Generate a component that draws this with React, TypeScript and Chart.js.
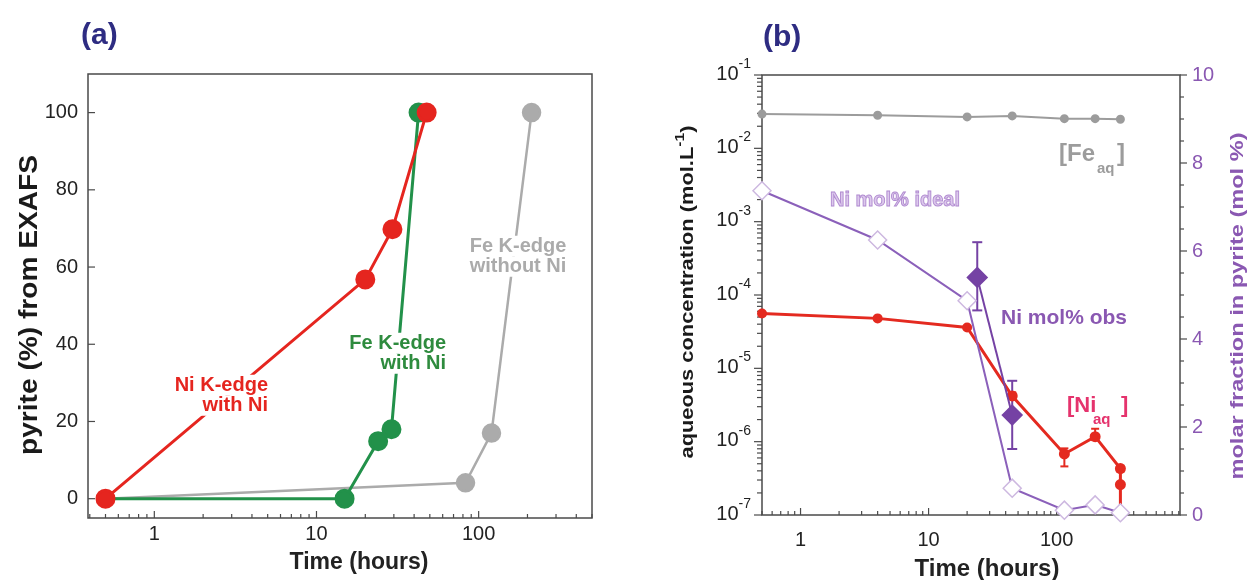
import React, { useEffect, useRef } from "react";
import { Chart, registerables } from "chart.js";
Chart.register(...registerables);

const FONT = '"Liberation Sans", Arial, Helvetica, sans-serif';
const fnt = (size: number, bold = false) => `${bold ? "bold " : ""}${size}px ${FONT}`;

// ---------------- Panel (a) data ----------------
const timeNiKedge = [0.5, 20, 29.4, 47.8];
const pyriteNiKedge = [0, 56.8, 69.8, 100];
const timeFeKedgeNi = [0.5, 14.9, 24, 29, 42.6];
const pyriteFeKedgeNi = [0, 0, 14.9, 18, 100];
const timeFeKedgeNoNi = [0.5, 83, 120, 212];
const pyriteFeKedgeNoNi = [0, 4.1, 17, 100];
const xTickLabelsA = [1, 10, 100];
const yTickLabelsA = [0, 20, 40, 60, 80, 100];

// ---------------- Panel (b) data ----------------
const timeFe = [0.5, 4, 20, 45, 115, 200, 315];
const feAq = [2.93e-2, 2.83e-2, 2.68e-2, 2.77e-2, 2.54e-2, 2.54e-2, 2.49e-2];
const timeNiAq = [0.5, 4, 20, 45, 115, 200, 315, 315, 315];
const niAq = [5.6e-5, 4.8e-5, 3.6e-5, 4.2e-6, 6.8e-7, 1.17e-6, 4.3e-7, 2.6e-7, 1e-8];
const niAqErrLow = [null, null, null, 3.8e-6, 4.6e-7, 1.05e-6, 3.9e-7, null, null];
const niAqErrHigh = [null, null, null, 4.7e-6, 8.1e-7, 1.5e-6, 4.7e-7, null, null];
const timeIdeal = [0.5, 4, 20, 45, 115, 200, 315];
const niMolIdeal = [7.37, 6.25, 4.87, 0.61, 0.11, 0.23, 0.05];
const timeObs = [24, 45];
const niMolObs = [5.4, 2.27];
const niMolObsLow = [4.65, 1.5];
const niMolObsHigh = [6.2, 3.05];
const xTickLabelsB = [1, 10, 100];
const yLeftExponents = [-1, -2, -3, -4, -5, -6, -7];
const yRightTickLabels = [0, 2, 4, 6, 8, 10];

const zip = (xs: number[], ys: number[]) => xs.map((x, i) => ({ x, y: ys[i] }));

const AXIS = "#4a4a4a";
const NAVY = "#2E2C82";
const RED_A = "#E5251F";
const GREEN = "#22914A";
const GRAY_A = "#ABABAB";
const GRAY_B = "#9C9C9C";
const RED_B = "#E42A20";
const PURPLE_LINE = "#8B60BA";
const IDEAL_BORDER = "#CDB8E0";
const OBS = "#7542A4";
const PURPLE_TXT = "#8A58B2";

function logTicks(min: number, max: number) {
  const out: { v: number; major: boolean }[] = [];
  for (let e = Math.floor(Math.log10(min)); e <= Math.ceil(Math.log10(max)); e++) {
    for (let k = 1; k <= 9; k++) {
      const v = k * Math.pow(10, e);
      if (v >= min * 0.999 && v <= max * 1.001) out.push({ v, major: k === 1 });
    }
  }
  return out;
}

function seg(ctx: any, x1: number, y1: number, x2: number, y2: number) {
  ctx.beginPath();
  ctx.moveTo(x1, y1);
  ctx.lineTo(x2, y2);
  ctx.stroke();
}

function rotatedFitted(ctx: any, parts: { t: string; sup?: boolean }[], cx: number, cy: number, length: number, size: number, color: string) {
  ctx.save();
  const supSize = Math.round(size * 0.7);
  const widths = parts.map((p) => {
    ctx.font = fnt(p.sup ? supSize : size, true);
    return ctx.measureText(p.t).width;
  });
  const total = widths.reduce((a, b) => a + b, 0);
  ctx.translate(cx, cy);
  ctx.rotate(-Math.PI / 2);
  ctx.scale(length / total, 1);
  ctx.fillStyle = color;
  ctx.textBaseline = "middle";
  ctx.textAlign = "left";
  let u = -total / 2;
  parts.forEach((p, i) => {
    ctx.font = fnt(p.sup ? supSize : size, true);
    ctx.fillText(p.t, u, p.sup ? -size * 0.4 : 0);
    u += widths[i];
  });
  ctx.restore();
}

function labelBlock(ctx: any, lines: string[], x: number, y0: number, lineH: number, align: string, color: string, size: number) {
  ctx.save();
  ctx.font = fnt(size, true);
  ctx.textBaseline = "middle";
  ctx.textAlign = align;
  lines.forEach((s, i) => {
    const w = ctx.measureText(s).width;
    const y = y0 + i * lineH;
    const l = align === "right" ? x - w : align === "center" ? x - w / 2 : x;
    ctx.fillStyle = "#fff";
    ctx.fillRect(l - 3, y - lineH / 2, w + 6, lineH);
  });
  ctx.fillStyle = color;
  lines.forEach((s, i) => ctx.fillText(s, x, y0 + i * lineH));
  ctx.restore();
}

const X_MIN_A = 0.39, X_MAX_A = 500;
const X_MIN_B = 0.5, X_MAX_B = 920;

const pluginA = {
  id: "panelA",
  beforeDatasetsDraw(chart: any) {
    const { ctx, chartArea: a } = chart;
    const x = chart.scales.x, y = chart.scales.y;
    ctx.save();
    ctx.strokeStyle = AXIS;
    ctx.lineWidth = 1.5;
    ctx.strokeRect(a.left, a.top, a.right - a.left, a.bottom - a.top);
    ctx.lineWidth = 1.2;
    for (const t of logTicks(X_MIN_A, X_MAX_A)) {
      const px = x.getPixelForValue(t.v);
      seg(ctx, px, a.bottom, px, a.bottom - (t.major ? 7 : 4));
    }
    for (const v of yTickLabelsA) {
      const py = y.getPixelForValue(v);
      seg(ctx, a.left, py, a.left + 7, py);
    }
    ctx.fillStyle = "#222";
    ctx.font = fnt(20);
    ctx.textBaseline = "middle";
    ctx.textAlign = "right";
    for (const v of yTickLabelsA) ctx.fillText(String(v), a.left - 10, y.getPixelForValue(v));
    ctx.textAlign = "center";
    for (const v of xTickLabelsA) ctx.fillText(String(v), x.getPixelForValue(v), a.bottom + 16);
    ctx.font = fnt(23, true);
    ctx.fillText("Time (hours)", 359, 563);
    ctx.fillStyle = NAVY;
    ctx.font = fnt(30, true);
    ctx.textAlign = "left";
    ctx.fillText("(a)", 81, 36);
    ctx.restore();
    rotatedFitted(ctx, [{ t: "pyrite (%) from EXAFS" }], 30, 305, 300, 25, "#1a1a1a");
  },
  afterDatasetsDraw(chart: any) {
    const { ctx } = chart;
    labelBlock(ctx, ["Ni K-edge", "with Ni"], 268, 385, 20.5, "right", RED_A, 20);
    labelBlock(ctx, ["Fe K-edge", "with Ni"], 446, 343, 20.5, "right", "#2E8B3E", 20);
    labelBlock(ctx, ["Fe K-edge", "without Ni"], 518, 246, 20.5, "center", GRAY_A, 20);
  },
};

const pluginB = {
  id: "panelB",
  beforeDatasetsDraw(chart: any) {
    const { ctx, chartArea: a } = chart;
    const x = chart.scales.x, yL = chart.scales.yL, yR = chart.scales.yR;
    ctx.save();
    ctx.strokeStyle = AXIS;
    ctx.lineWidth = 1.5;
    ctx.strokeRect(a.left, a.top, a.right - a.left, a.bottom - a.top);
    ctx.lineWidth = 1.2;
    for (const t of logTicks(X_MIN_B, X_MAX_B)) {
      const px = x.getPixelForValue(t.v);
      seg(ctx, px, a.bottom, px, a.bottom - (t.major ? 7 : 4));
    }
    for (const t of logTicks(1e-7, 1e-1)) {
      const py = yL.getPixelForValue(t.v);
      seg(ctx, a.left - (t.major ? 8 : 5), py, a.left, py);
    }
    for (let v = 0; v <= 10; v += 0.5) {
      const py = yR.getPixelForValue(v);
      seg(ctx, a.right, py, a.right + (v % 2 === 0 ? 7 : 4), py);
    }
    // error bars
    ctx.lineWidth = 2;
    ctx.strokeStyle = RED_B;
    timeNiAq.forEach((t, i) => {
      const lo = niAqErrLow[i], hi = niAqErrHigh[i];
      if (lo == null || hi == null) return;
      const px = x.getPixelForValue(t);
      const p1 = yL.getPixelForValue(lo), p2 = yL.getPixelForValue(hi);
      seg(ctx, px, p1, px, p2);
      seg(ctx, px - 4, p1, px + 4, p1);
      seg(ctx, px - 4, p2, px + 4, p2);
    });
    ctx.strokeStyle = OBS;
    timeObs.forEach((t, i) => {
      const px = x.getPixelForValue(t);
      const p1 = yR.getPixelForValue(niMolObsLow[i]), p2 = yR.getPixelForValue(niMolObsHigh[i]);
      seg(ctx, px, p1, px, p2);
      seg(ctx, px - 5, p1, px + 5, p1);
      seg(ctx, px - 5, p2, px + 5, p2);
    });
    ctx.restore();
  },
  afterDraw(chart: any) {
    const { ctx, chartArea: a } = chart;
    const x = chart.scales.x, yL = chart.scales.yL, yR = chart.scales.yR;
    ctx.save();
    ctx.textBaseline = "middle";
    // x labels
    ctx.fillStyle = "#222";
    ctx.font = fnt(20);
    ctx.textAlign = "center";
    for (const v of xTickLabelsB) ctx.fillText(String(v), x.getPixelForValue(v), a.bottom + 25);
    ctx.font = fnt(24, true);
    ctx.fillText("Time (hours)", 987, 569);
    // left labels 10^n
    for (const e of yLeftExponents) {
      const py = yL.getPixelForValue(Math.pow(10, e));
      const sup = String(e);
      ctx.font = fnt(14);
      const ws = ctx.measureText(sup).width;
      ctx.font = fnt(20);
      const wb = ctx.measureText("10").width;
      const right = a.left - 11;
      ctx.textAlign = "left";
      ctx.fillText("10", right - ws - wb, py - 1);
      ctx.font = fnt(14);
      ctx.fillText(sup, right - ws, py - 11);
    }
    // right labels
    ctx.fillStyle = PURPLE_TXT;
    ctx.font = fnt(20);
    ctx.textAlign = "left";
    for (const v of yRightTickLabels) ctx.fillText(String(v), a.right + 12, yR.getPixelForValue(v));
    // panel label
    ctx.fillStyle = NAVY;
    ctx.font = fnt(30, true);
    ctx.fillText("(b)", 763, 38);
    // annotations
    ctx.fillStyle = GRAY_B;
    ctx.font = fnt(24, true);
    ctx.fillText("[Fe", 1059, 154);
    ctx.font = fnt(15, true);
    ctx.fillText("aq", 1097, 169);
    ctx.font = fnt(24, true);
    ctx.fillText("]", 1117, 154);

    ctx.fillStyle = "#E5336D";
    ctx.font = fnt(22, true);
    ctx.fillText("[Ni", 1067, 406);
    ctx.font = fnt(15, true);
    ctx.fillText("aq", 1093, 420);
    ctx.font = fnt(22, true);
    ctx.fillText("]", 1121, 406);

    ctx.fillStyle = PURPLE_TXT;
    ctx.font = fnt(21, true);
    ctx.fillText("Ni mol% obs", 1001, 318);

    ctx.font = fnt(20, true);
    ctx.fillStyle = "#DCC8EC";
    ctx.strokeStyle = "#B08AD0";
    ctx.lineWidth = 0.9;
    ctx.fillText("Ni mol% ideal", 830, 200);
    ctx.strokeText("Ni mol% ideal", 830, 200);
    ctx.restore();

    rotatedFitted(ctx, [{ t: "aqueous concentration (mol.L" }, { t: "-1", sup: true }, { t: ")" }], 688, 292, 333, 18, "#1a1a1a");
    rotatedFitted(ctx, [{ t: "molar fraction in pyrite (mol %)" }], 1238, 306, 347, 19, PURPLE_TXT);
  },
};

const hiddenScale = { ticks: { display: false }, grid: { display: false }, border: { display: false } };

function useChart(ref: any, makeConfig: () => any) {
  useEffect(() => {
    const chart = new Chart(ref.current, makeConfig());
    return () => chart.destroy();
  }, []);
}

function PanelA() {
  const ref = useRef<HTMLCanvasElement>(null);
  useChart(ref, () => ({
    type: "line",
    data: {
      datasets: [
        { data: zip(timeNiKedge, pyriteNiKedge), borderColor: RED_A, backgroundColor: RED_A, pointBackgroundColor: RED_A, pointBorderColor: RED_A, pointRadius: 8.5, borderWidth: 3, clip: false, order: 0 },
        { data: zip(timeFeKedgeNi, pyriteFeKedgeNi), borderColor: GREEN, backgroundColor: GREEN, pointBackgroundColor: GREEN, pointBorderColor: GREEN, pointRadius: [0, 8.5, 8.5, 8.5, 8.5], borderWidth: 3, clip: false, order: 1 },
        { data: zip(timeFeKedgeNoNi, pyriteFeKedgeNoNi), borderColor: GRAY_A, backgroundColor: GRAY_A, pointBackgroundColor: GRAY_A, pointBorderColor: GRAY_A, pointRadius: [0, 8.5, 8.5, 8.5], borderWidth: 2.5, clip: false, order: 2 },
      ],
    },
    options: {
      animation: false,
      responsive: false,
      devicePixelRatio: 1,
      layout: { padding: { left: 0, right: 660, top: 74, bottom: 0 } },
      plugins: { legend: { display: false }, tooltip: { enabled: false } },
      elements: { line: { tension: 0 } },
      scales: {
        x: { type: "logarithmic", min: X_MIN_A, max: X_MAX_A, ...hiddenScale, afterFit: (s: any) => { s.height = 62; } },
        y: { type: "linear", min: -5, max: 110, ...hiddenScale, afterFit: (s: any) => { s.width = 88; } },
      },
    },
    plugins: [pluginA],
  }));
  return <canvas ref={ref} width={1252} height={580} style={{ position: "absolute", left: 0, top: 0 }} />;
}

function PanelB() {
  const ref = useRef<HTMLCanvasElement>(null);
  useChart(ref, () => ({
    type: "line",
    data: {
      datasets: [
        { data: zip(timeObs, niMolObs), yAxisID: "yR", borderColor: OBS, backgroundColor: OBS, pointBackgroundColor: OBS, pointBorderColor: OBS, pointStyle: "rectRot", pointRadius: 9.5, borderWidth: 2, clip: false, order: 0 },
        { data: zip(timeIdeal, niMolIdeal), yAxisID: "yR", borderColor: PURPLE_LINE, pointBackgroundColor: "#ffffff", pointBorderColor: IDEAL_BORDER, pointBorderWidth: 1.5, pointStyle: "rectRot", pointRadius: 9, borderWidth: 2, clip: false, order: 1 },
        { data: zip(timeNiAq, niAq), yAxisID: "yL", borderColor: RED_B, backgroundColor: RED_B, pointBackgroundColor: RED_B, pointBorderColor: RED_B, pointRadius: [3.5, 3.5, 3.5, 4, 4, 4, 4, 4, 0], borderWidth: 3, clip: { left: 8, top: 8, right: 8, bottom: 0 }, order: 2 },
        { data: zip(timeFe, feAq), yAxisID: "yL", borderColor: GRAY_B, backgroundColor: GRAY_B, pointBackgroundColor: GRAY_B, pointBorderColor: GRAY_B, pointRadius: 3.5, borderWidth: 2, clip: false, order: 3 },
      ],
    },
    options: {
      animation: false,
      responsive: false,
      devicePixelRatio: 1,
      layout: { padding: { left: 620, right: 0, top: 75, bottom: 0 } },
      plugins: { legend: { display: false }, tooltip: { enabled: false } },
      elements: { line: { tension: 0 } },
      scales: {
        x: { type: "logarithmic", min: X_MIN_B, max: X_MAX_B, ...hiddenScale, afterFit: (s: any) => { s.height = 65; } },
        yL: { type: "logarithmic", position: "left", min: 1e-7, max: 1e-1, ...hiddenScale, afterFit: (s: any) => { s.width = 142; } },
        yR: { type: "linear", position: "right", min: 0, max: 10, ...hiddenScale, afterFit: (s: any) => { s.width = 72; } },
      },
    },
    plugins: [pluginB],
  }));
  return <canvas ref={ref} width={1252} height={580} style={{ position: "absolute", left: 0, top: 0 }} />;
}

export default function App() {
  return (
    <div style={{ position: "absolute", left: 0, top: 0, width: 1252, height: 580, background: "#ffffff", overflow: "hidden" }}>
      <PanelA />
      <PanelB />
    </div>
  );
}
